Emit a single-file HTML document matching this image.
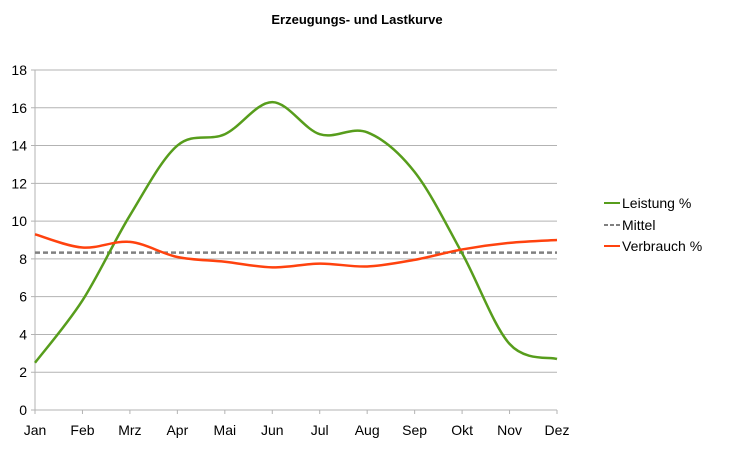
<!DOCTYPE html>
<html><head><meta charset="utf-8"><style>
body{margin:0;background:#fff;font-family:"Liberation Sans",sans-serif}
svg text{font-family:"Liberation Sans",sans-serif}
</style></head><body>
<svg id="chart" width="729" height="460">
<text x="357" y="24" text-anchor="middle" font-size="13" font-weight="bold">Erzeugungs- und Lastkurve</text>
<g id="grid"></g><g id="axes"></g><g id="series"></g>
<g>
<line x1="604" y1="203" x2="620" y2="203" stroke="#579d1c" stroke-width="2"/>
<text x="622" y="208" font-size="14">Leistung %</text>
<line x1="604" y1="225" x2="620" y2="225" stroke="#808080" stroke-width="2" stroke-dasharray="4,2"/>
<text x="622" y="230" font-size="14">Mittel</text>
<line x1="604" y1="246" x2="620" y2="246" stroke="#ff420e" stroke-width="2"/>
<text x="622" y="251" font-size="14">Verbrauch %</text>
</g>
</svg>
<script>
const months=["Jan","Feb","Mrz","Apr","Mai","Jun","Jul","Aug","Sep","Okt","Nov","Dez"];
const leistung=[2.5,5.8,10.3,14.0,14.6,16.3,14.6,14.7,12.6,8.3,3.5,2.7];
const verbrauch=[9.3,8.6,8.9,8.1,7.85,7.55,7.75,7.6,7.95,8.5,8.85,9.0];
const mittel=[8.33];
const yTicks=[0,2,4,6,8,10,12,14,16,18];
const NS="http://www.w3.org/2000/svg";
const x0=35,x1=557,yb=410,yt=70;
const X=i=>x0+i*(x1-x0)/(months.length-1);
const Y=v=>yb-v*(yb-yt)/18;
function mk(t,a,p){const e=document.createElementNS(NS,t);for(const k in a)e.setAttribute(k,a[k]);p.appendChild(e);return e;}
const g=document.getElementById('grid'),ax=document.getElementById('axes'),s=document.getElementById('series');
yTicks.forEach(v=>{
 const l=mk('line',{x1:x0-4,x2:x1,y1:Y(v),y2:Y(v),stroke:'#b3b3b3','stroke-width':1},g);
 
 
 const t=mk('text',{x:27,y:Y(v)+5,'text-anchor':'end','font-size':14},ax);t.textContent=v;
 
 
});
mk('line',{x1:x0,x2:x0,y1:yt,y2:yb+4,stroke:'#b3b3b3'},ax);
months.forEach((m,i)=>{
 mk('line',{x1:X(i),x2:X(i),y1:yb,y2:yb+4,stroke:'#b3b3b3'},ax);
 const t=mk('text',{x:X(i),y:yb+25,'text-anchor':'middle','font-size':14},ax);t.textContent=m;
 
 
});
function smooth(vals){
 const p=vals.map((v,i)=>[X(i),Y(v)]);let d='M'+p[0];
 for(let i=0;i<p.length-1;i++){
  const a=p[i-1]||p[i],b=p[i],c=p[i+1],e=p[i+2]||c;
  const c1=[b[0]+(c[0]-a[0])/6,b[1]+(c[1]-a[1])/6],c2=[c[0]-(e[0]-b[0])/6,c[1]-(e[1]-b[1])/6];
  d+=' C'+c1+' '+c2+' '+c;
 }
 return d;
}
const m=mk('line',{x1:x0,x2:x1,y1:Y(mittel[0]),y2:Y(mittel[0]),stroke:'#808080','stroke-width':2.5,'stroke-dasharray':'5,3'},s);


const p1=mk('path',{d:smooth(leistung),fill:'none',stroke:'#579d1c','stroke-width':2.5},s);


const p2=mk('path',{d:smooth(verbrauch),fill:'none',stroke:'#ff420e','stroke-width':2.5},s);


</script>
</body></html>
